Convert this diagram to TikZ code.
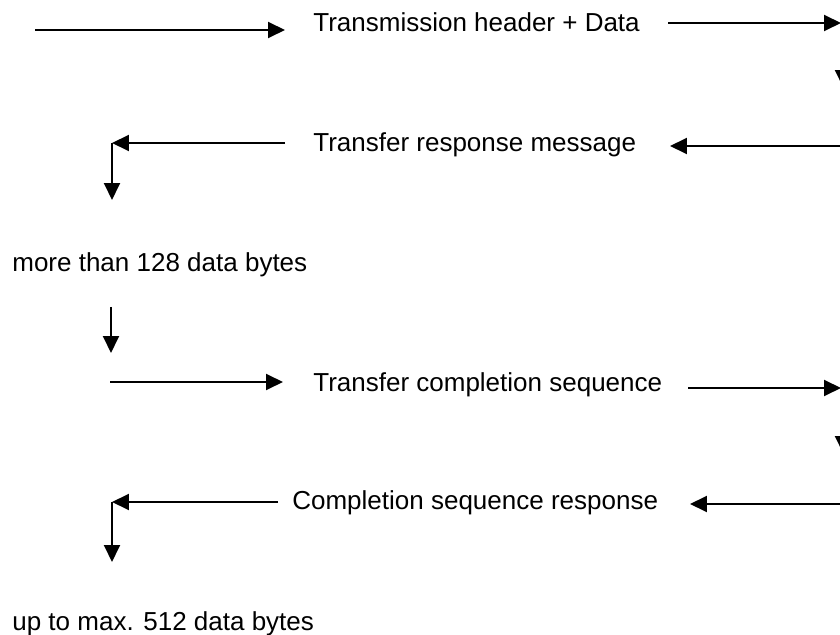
\documentclass[tikz,border=0pt]{standalone}
\usepackage{fontspec}
\setmainfont{Liberation Sans}
\usetikzlibrary{arrows.meta}

\tikzset{
  seta/.style={-{Triangle[length=0.34cm, width=0.32cm]}, line width=1.1pt},
  rotulo/.style={anchor=base west, inner sep=0pt, font=\fontsize{14.8}{18}\selectfont},
}

\begin{document}
\begin{tikzpicture}[x=0.02cm, y=-0.02cm]
% --- FOLHA: 840 x 635, eixo y para baixo ---
\useasboundingbox (0,0) rectangle (840,635);
\clip (0,0) rectangle (840,635);

% LAYER 1: Mensagens e notas
\node[rotulo] (cabecalho)  at (313,32)  {Transmission header + Data};
\node[rotulo] (resposta)   at (313,152) {Transfer response message};
\node[rotulo] (mais128)    at (12,272)  {more than 128 data bytes};
\node[rotulo] (conclusao)  at (313,392) {Transfer completion sequence};
\node[rotulo] (respfinal)  at (292,510) {Completion sequence response};
\node[rotulo] (max512)     at (12,631)  {up to max. 512 data bytes};

% LAYER 2: Pontos das setas
\coordinate (c1a) at (35,30);   \coordinate (c1b) at (285,30);
\coordinate (c1c) at (668,23);  \coordinate (c1d) at (841,23);
\coordinate (d1a) at (843,23);  \coordinate (d1b) at (843,87);
\coordinate (r1a) at (845,146); \coordinate (r1b) at (670,146);
\coordinate (r1c) at (285,143); \coordinate (r1d) at (112,143);
\coordinate (v1)  at (112,200);
\coordinate (v2a) at (111,307); \coordinate (v2b) at (111,353);
\coordinate (c2a) at (110,382); \coordinate (c2b) at (283,382);
\coordinate (c2c) at (688,388); \coordinate (c2d) at (841,388);
\coordinate (d2a) at (843,388); \coordinate (d2b) at (843,453);
\coordinate (r2a) at (845,504); \coordinate (r2b) at (690,504);
\coordinate (r2c) at (278,502); \coordinate (r2d) at (112,502);
\coordinate (v3)  at (112,562);

% LAYER 3: Setas
\draw[seta] (c1a) -- (c1b);
\draw[seta] (c1c) -- (c1d);
\draw[seta] (d1a) -- (d1b);
\draw[seta] (r1a) -- (r1b);
\draw[seta] (r1c) -- (r1d);
\draw[seta] (r1d) -- (v1);
\draw[seta] (v2a) -- (v2b);
\draw[seta] (c2a) -- (c2b);
\draw[seta] (c2c) -- (c2d);
\draw[seta] (d2a) -- (d2b);
\draw[seta] (r2a) -- (r2b);
\draw[seta] (r2c) -- (r2d);
\draw[seta] (r2d) -- (v3);
\end{tikzpicture}
\end{document}
